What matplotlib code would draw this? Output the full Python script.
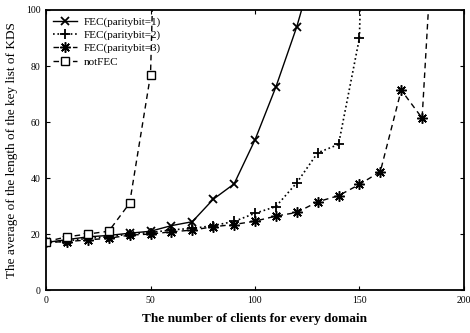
import matplotlib
matplotlib.use("Agg")
import matplotlib.pyplot as plt

fec1_x = [0, 10, 20, 30, 40, 50, 60, 70, 80, 90, 100, 110, 120, 130]
fec1_y = [17, 18, 19, 19.5, 20.3, 21, 23, 24.4, 32.4, 37.9, 53.6, 72.5, 94, 120]

fec2_x = [0, 10, 20, 30, 40, 50, 60, 70, 80, 90, 100, 110, 120, 130, 140, 150, 160]
fec2_y = [17, 17.5, 18.5, 19, 20, 20.5, 21.5, 22, 23, 24.5, 27.4, 29.8, 38.3, 49, 52, 90, 400]

fec3_x = [0, 10, 20, 30, 40, 50, 60, 70, 80, 90, 100, 110, 120, 130, 140, 150, 160, 170, 180, 190]
fec3_y = [17, 17.3, 17.9, 18.5, 19.6, 20, 20.8, 21.4, 22.6, 23.4, 24.6, 26.4, 27.7, 31.5, 33.7, 37.7, 42.3, 71.4, 61.4, 190]

nofec_x = [0, 10, 20, 30, 40, 50, 60]
nofec_y = [17.3, 19, 20, 21, 31, 76.8, 350]

labels = ["FEC(paritybit=1)", "FEC(paritybit=2)", "FEC(paritybit=3)", "notFEC"]
xticks = [0, 50, 100, 150, 200]
yticks = [0, 20, 40, 60, 80, 100]

plt.rcParams['font.family'] = ['Liberation Serif', 'DejaVu Serif']

fig = plt.figure(figsize=(4.7, 3.33), dpi=100)
ax = fig.add_axes([0.098, 0.129, 0.889, 0.841])

ax.plot(fec1_x, fec1_y, '-', color='black', lw=1.0, marker='x', ms=6, mew=1.3, label=labels[0])
ax.plot(fec2_x, fec2_y, ':', color='black', lw=1.2, marker='+', ms=7, mew=1.3, label=labels[1])
ax.plot(fec3_x, fec3_y, '--', color='black', lw=1.0, dashes=(4, 3), marker=(8, 2, 0), ms=7.5, mew=1.1, label=labels[2])
ax.plot(nofec_x, nofec_y, '--', color='black', lw=1.0, dashes=(4, 3), marker='s', ms=6, mew=1.0,
        mfc='white', label=labels[3])

ax.set_xlim(0, 200)
ax.set_ylim(0, 100)
ax.set_xticks(xticks)
ax.set_yticks(yticks)
ax.tick_params(direction='in', top=True, right=True, labelsize=7, length=3, pad=4)
for s in ax.spines.values():
    s.set_linewidth(1.3)

ax.set_xlabel("The number of clients for every domain", fontsize=9.5, fontweight='bold', labelpad=6)
ax.set_ylabel("The average of the length of the key list of KDS", fontsize=9.5, labelpad=6)

leg = ax.legend(loc='upper left', frameon=False, fontsize=8, handlelength=2.2,
                borderaxespad=0.2, labelspacing=0.3, handletextpad=0.6)

fig.savefig("out.png", dpi=100)
